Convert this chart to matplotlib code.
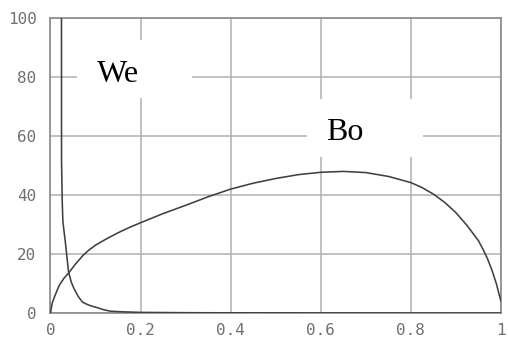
import matplotlib
matplotlib.use("Agg")
import matplotlib.pyplot as plt
from matplotlib.patches import Rectangle

# Data
we_x = [0.0238, 0.0245, 0.0260, 0.0275, 0.033, 0.040, 0.046, 0.053, 0.062, 0.071,
        0.080, 0.090, 0.104, 0.118, 0.133, 0.16, 0.20, 0.30, 0.40, 0.70, 1.00]
we_y = [300.0, 52.0, 38.0, 31.0, 24.0, 14.0, 10.5, 8.0, 5.5, 3.7,
        3.0, 2.4, 1.8, 1.1, 0.6, 0.4, 0.2, 0.1, 0.05, 0.02, 0.01]

bo_x = [0.0, 0.004, 0.009, 0.015, 0.02, 0.03, 0.04, 0.055, 0.072, 0.085, 0.10, 0.125,
        0.15, 0.175, 0.20, 0.25, 0.30, 0.35, 0.40, 0.45, 0.50, 0.55,
        0.60, 0.65, 0.70, 0.75, 0.80, 0.825, 0.85, 0.875, 0.90, 0.925, 0.95,
        0.96, 0.97, 0.98, 0.99, 0.995, 1.0]
bo_y = [0.0, 3.5, 5.5, 7.8, 9.5, 11.8, 13.5, 16.5, 19.5, 21.3, 23.0, 25.2,
        27.2, 29.0, 30.6, 33.7, 36.5, 39.4, 42.0, 44.0, 45.6, 46.9,
        47.7, 48.0, 47.6, 46.3, 44.2, 42.5, 40.3, 37.5, 34.0, 29.6, 24.5,
        21.6, 18.4, 14.5, 9.8, 6.8, 4.0]

x_ticks = [0, 0.2, 0.4, 0.6, 0.8, 1]
x_ticklabels = ["0", "0.2", "0.4", "0.6", "0.8", "1"]
y_ticks = [0, 20, 40, 60, 80, 100]
y_ticklabels = ["0", "20", "40", "60", "80", "100"]

labels = ["We", "Bo"]

fig = plt.figure(figsize=(5.08, 3.38), dpi=100)
ax = fig.add_axes([0.0994, 0.074, 0.8868, 0.8727])
ax.set_xlim(0, 1)
ax.set_ylim(0, 100)

ax.set_xticks(x_ticks)
ax.set_xticklabels(x_ticklabels)
ax.set_yticks(y_ticks)
ax.set_yticklabels(y_ticklabels)
ax.tick_params(length=0, labelsize=11.5, labelcolor="#707070")
ax.tick_params(axis="y", pad=10)
ax.tick_params(axis="x", pad=7)
for lab in ax.get_xticklabels() + ax.get_yticklabels():
    lab.set_fontfamily("DejaVu Sans Mono")

ax.grid(True, color="#b0b0b0", linewidth=1.1, zorder=0)
ax.set_axisbelow(True)
for s in ax.spines.values():
    s.set_color("#8a8a8a")
    s.set_linewidth(1.2)

# white label boxes
ax.add_patch(Rectangle((0.058, 73.0), 0.257, 19.5, facecolor="white", edgecolor="none", zorder=1.5))
ax.add_patch(Rectangle((0.570, 53.0), 0.257, 19.5, facecolor="white", edgecolor="none", zorder=1.5))

ax.plot(we_x, we_y, color="#404040", linewidth=1.15, zorder=3)
ax.plot(bo_x, bo_y, color="#404040", linewidth=1.15, zorder=3)

ax.text(0.102, 81.0, labels[0], fontfamily="Liberation Serif", fontsize=23,
        va="center", ha="left", color="black", zorder=4)
ax.text(0.612, 61.2, labels[1], fontfamily="Liberation Serif", fontsize=23,
        va="center", ha="left", color="black", zorder=4)

fig.savefig("out.png", dpi=100)
